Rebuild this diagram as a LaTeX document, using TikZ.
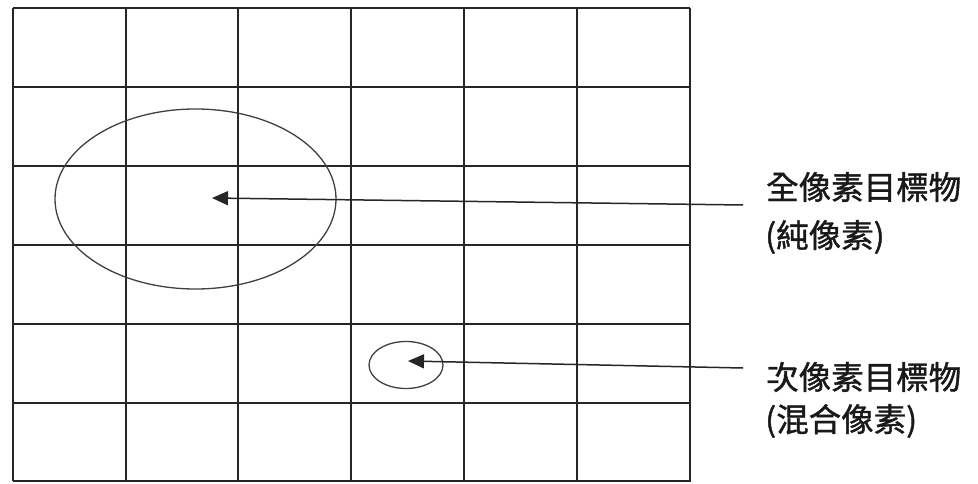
\documentclass[tikz,border=0pt]{standalone}
\usepackage{fontspec}
\newfontfamily\cjk[FakeBold=1.2]{Noto Sans CJK TC}
\usetikzlibrary{arrows.meta,shapes.geometric}
\begin{document}
\begin{tikzpicture}[x=1pt,y=-1pt,
  gridline/.style={line width=1.6pt,draw=black!85},
  ring/.style={line width=1.3pt,draw=black!75,shape=ellipse,inner sep=0pt},
  pointer/.style={line width=1.5pt,draw=black!85,-{Triangle[length=16pt,width=14pt]}},
  label/.style={font=\cjk\fontsize{32.5}{38}\selectfont,anchor=west,inner sep=0pt,text=black!90}]
\useasboundingbox (0,0) rectangle (978,484);
\fill[white] (0,0) rectangle (978,484);
% grid
\foreach \x in {13,126,238,351,464,577}
  \draw[gridline] (\x,8) -- (\x,481);
\foreach \y in {8,87,166,245,324,403}
  \draw[gridline] (13,\y) -- (690,\y);
\draw[line width=2.6pt,draw=black!85] (690,8) -- (690,481) -- (13,481);
% ellipses
\node[ring,minimum width=281pt,minimum height=180pt] (big) at (195.5,199) {};
\node[ring,minimum width=74pt,minimum height=47pt] (small) at (406,365) {};
% labels
\node[label] (t1a) at (766,187) {全像素目標物};
\node[label] (t1b) at (765,237) {(純像素)};
\node[label] (t2a) at (766,377) {次像素目標物};
\node[label] (t2b) at (765,421) {(混合像素)};
% arrows
\coordinate (tail1) at (743,205);
\coordinate (tip1) at (212,198);
\coordinate (tail2) at (743,368);
\coordinate (tip2) at (408,361);
\draw[pointer] (tail1) -- (tip1);
\draw[pointer] (tail2) -- (tip2);
\end{tikzpicture}
\end{document}
